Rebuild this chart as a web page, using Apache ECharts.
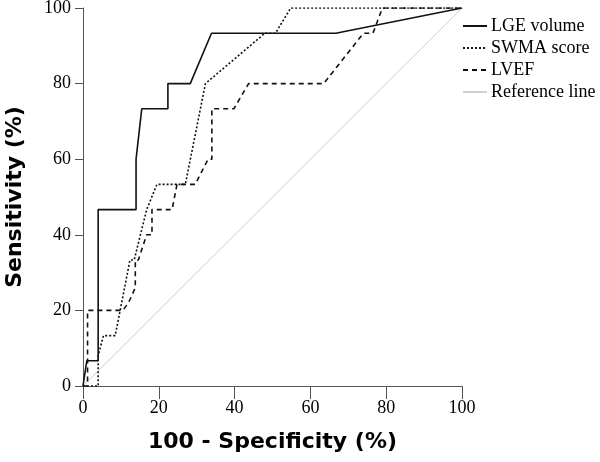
<!DOCTYPE html>
<html>
<head>
<meta charset="utf-8">
<script src="https://cdn.jsdelivr.net/npm/echarts@6/dist/echarts.min.js"></script>
<style>html,body{margin:0;padding:0;background:#fff}#c{width:600px;height:462px}</style>
</head>
<body>
<div id="c"></div>
<script>
// ROC curve points: [100 - specificity (%), sensitivity (%)]
const lgeVolume = [[0,0],[1,6.67],[4,6.67],[4,46.67],[14,46.67],[14,60],[15.5,73.33],[22.4,73.33],[22.4,80],[28.3,80],[33.9,93.33],[66.7,93.33],[100,100]];
const swmaScore = [[0,0],[4,0],[4,8],[5.4,13.33],[8.5,13.33],[9.8,20],[12.4,33.33],[13.5,33.33],[16.8,46.67],[19.5,53.33],[27,53.33],[32.3,80],[48,93.33],[50.8,93.33],[54.8,100],[100,100]];
const lvef = [[0,0],[1.2,0],[1.2,20],[10.5,20],[12,22],[13.8,26],[13.8,33.33],[14.6,33.33],[16.8,40],[18.2,40],[18.2,46.67],[23.5,46.67],[24.8,53.33],[29.6,53.33],[33,60],[34,60],[34,73.33],[39.8,73.33],[43.7,80],[63.5,80],[74,93.33],[76.5,93.33],[79,100],[100,100]];
const referenceLine = [[0,0],[100,100]];
const seriesNames = ['LGE volume','SWMA score','LVEF','Reference line'];
const xTicks = [0,20,40,60,80,100];
const yTicks = [0,20,40,60,80,100];

const chart = echarts.init(document.getElementById('c'), null, {renderer:'canvas'});
const serif = '"Liberation Serif", "Times New Roman", serif';
const axisCol = '#555';
chart.setOption({
  animation:false,
  backgroundColor:'#fff',
  grid:{left:83, right:138, top:8, bottom:76, containLabel:false, outerBoundsMode:'none'},
  legend:{
    orient:'vertical', left:462, top:17, padding:0,
    itemWidth:24, itemHeight:15, itemGap:4,
    itemStyle:{opacity:0},
    textStyle:{fontFamily:serif, fontSize:18, color:'#000', padding:[0,0,0,-1]},
    data:seriesNames
  },
  xAxis:{
    type:'value', min:xTicks[0], max:xTicks[xTicks.length-1], interval:20,
    name:'100 - Specificity (%)', nameLocation:'middle', nameGap:45,
    nameTextStyle:{fontFamily:'"DejaVu Sans", sans-serif', fontWeight:'bold', fontSize:22, color:'#000'},
    axisLine:{show:true, onZero:false, lineStyle:{color:axisCol, width:1}},
    axisTick:{show:true, length:13, lineStyle:{color:axisCol}},
    axisLabel:{fontFamily:serif, fontSize:18, color:'#000', margin:13},
    splitLine:{show:false}
  },
  yAxis:{
    type:'value', min:yTicks[0], max:yTicks[yTicks.length-1], interval:20,
    name:'Sensitivity (%)', nameLocation:'middle', nameGap:57,
    nameTextStyle:{fontFamily:'"DejaVu Sans", sans-serif', fontWeight:'bold', fontSize:22, color:'#000'},
    axisLine:{show:true, onZero:false, lineStyle:{color:axisCol, width:1}},
    axisTick:{show:true, length:8, lineStyle:{color:axisCol}},
    axisLabel:{fontFamily:serif, fontSize:18, color:'#000', margin:12},
    splitLine:{show:false}
  },
  series:[
    {name:seriesNames[0], type:'line', data:lgeVolume, symbol:'none', z:5,
     lineStyle:{color:'#111', width:1.6, type:'solid'}, itemStyle:{color:'#111'}},
    {name:seriesNames[1], type:'line', data:swmaScore, symbol:'none', z:4,
     lineStyle:{color:'#111', width:1.6, type:[2,2]}, itemStyle:{color:'#111'}},
    {name:seriesNames[2], type:'line', data:lvef, symbol:'none', z:4,
     lineStyle:{color:'#111', width:1.6, type:[5,4]}, itemStyle:{color:'#111'}},
    {name:seriesNames[3], type:'line', data:referenceLine, symbol:'none', z:2,
     lineStyle:{color:'#cfcfcf', width:1, type:'solid'}, itemStyle:{color:'#cfcfcf'}}
  ]
});
</script>
</body>
</html>
